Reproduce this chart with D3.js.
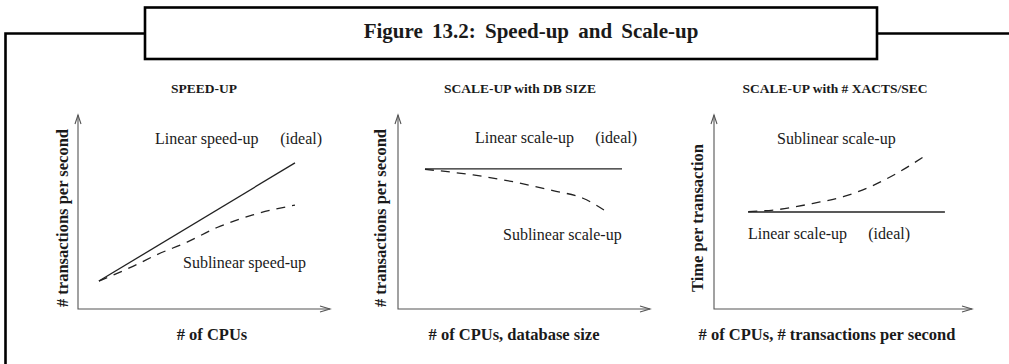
<!DOCTYPE html>
<html>
<head>
    <meta charset="utf-8">
    <title>Speed-up and Scale-up</title>
    <script src="https://d3js.org/d3.v7.min.js"></script>
    <style>
        body {
            margin: 0;
            background: #ffffff;
        }
        svg text {
            font-family: 'Liberation Serif', 'Times New Roman', serif;
            fill: #1a1a1a;
        }
        .fig-title {
            font-size: 21px;
            font-weight: bold;
            word-spacing: 4px;
        }
        .panel-title {
            font-size: 13.5px;
            font-weight: bold;
        }
        .axis-label {
            font-size: 16.5px;
            font-weight: bold;
        }
        .note {
            font-size: 16px;
        }
    </style>
</head>
<body>
<div id="chart"></div>
<script>
    // --- data (axes run 0..10 on both sides) ---
    const panelTitles = ["SPEED-UP", "SCALE-UP with DB SIZE", "SCALE-UP with # XACTS/SEC"];
    const xLabels = ["# of CPUs", "# of CPUs, database size", "# of CPUs, # transactions per second"];
    const yLabels = ["# transactions per second", "# transactions per second", "Time per transaction"];

    // speed-up
    const speedLinearX = [0.83, 8.61];
    const speedLinearY = [1.44, 7.53];
    const speedSubX = [0.83, 2.18, 3.13, 4.33, 5.52, 6.94, 8.61];
    const speedSubY = [1.44, 2.2, 2.8, 3.45, 4.2, 4.85, 5.36];

    // scale-up with db size
    const dbLinearX = [1.07, 8.89];
    const dbLinearY = [7.22, 7.22];
    const dbSubX = [1.07, 2.98, 4.56, 6.15, 7.34, 8.33];
    const dbSubY = [7.20, 6.91, 6.56, 6.10, 5.71, 4.97];

    // scale-up with xacts/sec
    const xactLinearX = [1.32, 8.95];
    const xactLinearY = [5.0, 5.0];
    const xactSubX = [1.33, 2.56, 3.85, 5.01, 6.05, 7.08, 8.18];
    const xactSubY = [5.02, 5.14, 5.45, 5.79, 6.30, 6.99, 7.89];

    const width = 1009, height = 364;

    const svg = d3.select("#chart")
        .append("svg")
        .attr("width", width)
        .attr("height", height);

    // figure frame + caption box
    const frame = svg.append("g")
        .attr("fill", "none")
        .attr("stroke", "#000")
        .attr("stroke-width", 2.6);
    frame.append("path").attr("d", "M5.5,364 V33.5 H145");
    frame.append("path").attr("d", "M877,33.5 H1009");
    frame.append("rect")
        .attr("x", 145).attr("y", 7.5)
        .attr("width", 732).attr("height", 51.5);

    svg.append("text")
        .attr("class", "fig-title")
        .attr("x", 531)
        .attr("y", 38)
        .attr("text-anchor", "middle")
        .text("Figure 13.2: Speed-up and Scale-up");

    // panel layout
    const panels = [
        { left: 78,  right: 330, labelX: 62,  notes: [
            { text: "Linear speed-up", x: 155, y: 144, anchor: "start" },
            { text: "(ideal)", x: 322, y: 144, anchor: "end" },
            { text: "Sublinear speed-up", x: 183, y: 268, anchor: "start" }
          ], linear: [speedLinearX, speedLinearY], sub: [speedSubX, speedSubY] },
        { left: 398, right: 650, labelX: 380, notes: [
            { text: "Linear scale-up", x: 475, y: 143, anchor: "start" },
            { text: "(ideal)", x: 637, y: 143, anchor: "end" },
            { text: "Sublinear scale-up", x: 503, y: 240, anchor: "start" }
          ], linear: [dbLinearX, dbLinearY], sub: [dbSubX, dbSubY] },
        { left: 714, right: 972, labelX: 697, notes: [
            { text: "Sublinear scale-up", x: 777, y: 144, anchor: "start" },
            { text: "Linear scale-up", x: 748, y: 239, anchor: "start" },
            { text: "(ideal)", x: 910, y: 239, anchor: "end" }
          ], linear: [xactLinearX, xactLinearY], sub: [xactSubX, xactSubY] }
    ];
    const axisTop = 115, axisBottom = 309;

    panels.forEach((p, i) => {
        const x = d3.scaleLinear().domain([0, 10]).range([p.left, p.right]);
        const y = d3.scaleLinear().domain([0, 10]).range([axisBottom, axisTop]);
        const g = svg.append("g");

        // axes with open arrowheads
        const ax = g.append("g")
            .attr("fill", "none")
            .attr("stroke", "#555")
            .attr("stroke-width", 1.1);
        ax.append("path").attr("d", `M${x(0)},${y(10)} V${y(0)} H${x(10)}`);
        ax.append("path").attr("d", `M${x(0) - 3},${y(10) + 9} L${x(0)},${y(10)} L${x(0) + 3},${y(10) + 9}`);
        ax.append("path").attr("d", `M${x(10) - 10},${y(0) - 3} L${x(10)},${y(0)} L${x(10) - 10},${y(0) + 3}`);

        const line = d3.line()
            .x(d => x(d[0]))
            .y(d => y(d[1]))
            .curve(d3.curveMonotoneX);

        g.append("path")
            .datum(d3.zip(p.linear[0], p.linear[1]))
            .attr("d", line)
            .attr("fill", "none")
            .attr("stroke", "#222")
            .attr("stroke-width", 1.3);

        g.append("path")
            .datum(d3.zip(p.sub[0], p.sub[1]))
            .attr("d", line)
            .attr("fill", "none")
            .attr("stroke", "#222")
            .attr("stroke-width", 1.3)
            .attr("stroke-dasharray", "9,7");

        // titles and labels
        g.append("text")
            .attr("class", "panel-title")
            .attr("x", (p.left + p.right) / 2 + [0, -4, -8][i])
            .attr("y", 93)
            .attr("text-anchor", "middle")
            .text(panelTitles[i]);

        g.append("text")
            .attr("class", "axis-label")
            .attr("transform", `translate(${p.labelX},${218}) rotate(-90)`)
            .attr("text-anchor", "middle")
            .attr("dominant-baseline", "central")
            .text(yLabels[i]);

        g.append("text")
            .attr("class", "axis-label")
            .attr("x", (p.left + p.right) / 2 + [8, -10, -16][i])
            .attr("y", 340)
            .attr("text-anchor", "middle")
            .text(xLabels[i]);

        g.selectAll(".note")
            .data(p.notes)
            .enter()
            .append("text")
            .attr("class", "note")
            .attr("x", d => d.x)
            .attr("y", d => d.y)
            .attr("text-anchor", d => d.anchor)
            .text(d => d.text);
    });
</script>
</body>
</html>
